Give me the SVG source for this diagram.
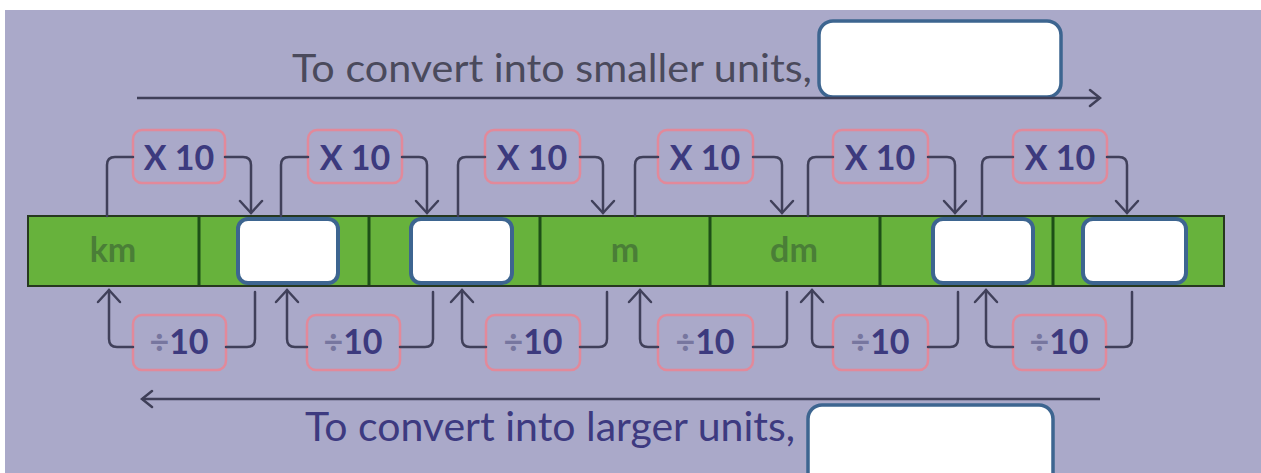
<svg xmlns="http://www.w3.org/2000/svg" width="1261" height="473" viewBox="0 0 1261 473">
<style>
.conn{fill:none;stroke:#40405a;stroke-width:2.5;stroke-linecap:round}
.big{fill:none;stroke:#3f3f58;stroke-width:2.5}
.lab{fill:none;stroke:#e2899a;stroke-width:2.5}
.labt{font-family:Lato,"Open Sans",sans-serif;font-weight:700;font-size:34px;fill:#3c3a7e;text-anchor:middle}
.div{font-family:Lato,"Open Sans",sans-serif;font-weight:700;font-size:34px;fill:#77769f}
.wbox{fill:#ffffff;stroke:#3d6590;stroke-width:4}
.bigbox{fill:#ffffff;stroke:#3d6590;stroke-width:3.5}
.unit{font-family:Lato,"Open Sans",sans-serif;font-weight:700;font-size:34px;fill:#4a7e37;text-anchor:middle}
.sep{stroke:#1d4f17;stroke-width:3}
</style>
<defs>
<marker id="ah" viewBox="-14 -13 16 26" refX="0" refY="0" markerWidth="16" markerHeight="26" markerUnits="userSpaceOnUse" orient="auto">
<path d="M-12,-11 L0,0 L-12,11" fill="none" stroke="#40405a" stroke-width="2.5" stroke-linecap="round"/>
</marker>
<marker id="bh" viewBox="-14 -11 16 22" refX="0" refY="0" markerWidth="16" markerHeight="22" markerUnits="userSpaceOnUse" orient="auto">
<path d="M-10,-8 L0,0 L-10,8" fill="none" stroke="#3f3f58" stroke-width="2.5" stroke-linecap="round"/>
</marker>
</defs>
<rect x="0" y="0" width="1261" height="473" fill="#ffffff"/>
<rect x="5" y="10" width="1256" height="463" fill="#aaa9c9"/>

<g id="top-title">
<text x="292" y="82" font-family="Lato,'Open Sans',sans-serif" font-size="38" fill="#4a4a5c" textLength="520" lengthAdjust="spacingAndGlyphs">To convert into smaller units,</text>
<rect class="bigbox" x="819" y="21" width="242" height="76" rx="14"/>
</g>
<g id="bottom-title">
<text x="305" y="441" font-family="Lato,'Open Sans',sans-serif" font-size="40" fill="#3d3a80" textLength="490" lengthAdjust="spacingAndGlyphs">To convert into larger units,</text>
<rect class="bigbox" x="808" y="405" width="245" height="90" rx="14"/>
</g>

<g id="bar">
<rect x="28" y="216" width="1196" height="70" fill="#67b23c" stroke="#26381f" stroke-width="2"/>
<line class="sep" x1="199" y1="217" x2="199" y2="285"/>
<line class="sep" x1="369" y1="217" x2="369" y2="285"/>
<line class="sep" x1="540" y1="217" x2="540" y2="285"/>
<line class="sep" x1="710" y1="217" x2="710" y2="285"/>
<line class="sep" x1="880" y1="217" x2="880" y2="285"/>
<line class="sep" x1="1053" y1="217" x2="1053" y2="285"/>
</g>
<g id="cell-km"><text class="unit" x="113" y="262">km</text></g>
<g id="cell-2"><rect class="wbox" x="238" y="219" width="100" height="64" rx="10"/></g>
<g id="cell-3"><rect class="wbox" x="411" y="219" width="101" height="64" rx="10"/></g>
<g id="cell-m"><text class="unit" x="625" y="262">m</text></g>
<g id="cell-dm"><text class="unit" x="794" y="262">dm</text></g>
<g id="cell-6"><rect class="wbox" x="933" y="219" width="100" height="64" rx="10"/></g>
<g id="cell-7"><rect class="wbox" x="1083" y="219" width="103" height="64" rx="10"/></g>

<g id="mul-labels">
<g id="mul1"><rect class="lab" x="133" y="130" width="92" height="53" rx="9"/><text class="labt" x="179" y="170">X 10</text></g>
<g id="mul2"><rect class="lab" x="308" y="130" width="94" height="53" rx="9"/><text class="labt" x="355" y="170">X 10</text></g>
<g id="mul3"><rect class="lab" x="485" y="130" width="95" height="53" rx="9"/><text class="labt" x="532" y="170">X 10</text></g>
<g id="mul4"><rect class="lab" x="658" y="130" width="95" height="53" rx="9"/><text class="labt" x="705" y="170">X 10</text></g>
<g id="mul5"><rect class="lab" x="833" y="130" width="95" height="53" rx="9"/><text class="labt" x="880" y="170">X 10</text></g>
<g id="mul6"><rect class="lab" x="1013" y="130" width="94" height="53" rx="9"/><text class="labt" x="1060" y="170">X 10</text></g>
</g>
<g id="div-labels">
<g id="div1"><rect class="lab" x="133" y="315" width="93" height="55" rx="9"/><text x="179" y="354" text-anchor="middle"><tspan class="div">÷</tspan><tspan class="labt">10</tspan></text></g>
<g id="div2"><rect class="lab" x="307" y="315" width="93" height="55" rx="9"/><text x="353" y="354" text-anchor="middle"><tspan class="div">÷</tspan><tspan class="labt">10</tspan></text></g>
<g id="div3"><rect class="lab" x="486" y="315" width="94" height="55" rx="9"/><text x="533" y="354" text-anchor="middle"><tspan class="div">÷</tspan><tspan class="labt">10</tspan></text></g>
<g id="div4"><rect class="lab" x="658" y="315" width="95" height="55" rx="9"/><text x="705" y="354" text-anchor="middle"><tspan class="div">÷</tspan><tspan class="labt">10</tspan></text></g>
<g id="div5"><rect class="lab" x="833" y="315" width="95" height="55" rx="9"/><text x="880" y="354" text-anchor="middle"><tspan class="div">÷</tspan><tspan class="labt">10</tspan></text></g>
<g id="div6"><rect class="lab" x="1013" y="315" width="93" height="55" rx="9"/><text x="1059" y="354" text-anchor="middle"><tspan class="div">÷</tspan><tspan class="labt">10</tspan></text></g>
</g>

<g id="connectors">
<path class="big" d="M137,98 H1100" marker-end="url(#bh)"/>
<path class="big" d="M1100,399 H142" marker-end="url(#bh)"/>
<path class="conn" d="M107,216 V165 Q107,157 115,157 H133"/>
<path class="conn" d="M225,157 H243 Q251,157 251,165 V213" marker-end="url(#ah)"/>
<path class="conn" d="M281,216 V165 Q281,157 289,157 H308"/>
<path class="conn" d="M402,157 H419 Q427,157 427,165 V213" marker-end="url(#ah)"/>
<path class="conn" d="M458,216 V165 Q458,157 466,157 H485"/>
<path class="conn" d="M580,157 H595 Q603,157 603,165 V213" marker-end="url(#ah)"/>
<path class="conn" d="M635,216 V165 Q635,157 643,157 H658"/>
<path class="conn" d="M753,157 H774 Q782,157 782,165 V213" marker-end="url(#ah)"/>
<path class="conn" d="M808,216 V165 Q808,157 816,157 H833"/>
<path class="conn" d="M928,157 H947 Q955,157 955,165 V213" marker-end="url(#ah)"/>
<path class="conn" d="M982,216 V165 Q982,157 990,157 H1013"/>
<path class="conn" d="M1107,157 H1119 Q1127,157 1127,165 V213" marker-end="url(#ah)"/>
<path class="conn" d="M133,347 H117 Q109,347 109,339 V290" marker-end="url(#ah)"/>
<path class="conn" d="M226,347 H247 Q255,347 255,339 V292"/>
<path class="conn" d="M307,347 H295 Q287,347 287,339 V290" marker-end="url(#ah)"/>
<path class="conn" d="M400,347 H425 Q433,347 433,339 V292"/>
<path class="conn" d="M486,347 H470 Q462,347 462,339 V290" marker-end="url(#ah)"/>
<path class="conn" d="M580,347 H599 Q607,347 607,339 V292"/>
<path class="conn" d="M658,347 H648 Q640,347 640,339 V290" marker-end="url(#ah)"/>
<path class="conn" d="M753,347 H779 Q787,347 787,339 V292"/>
<path class="conn" d="M833,347 H820 Q812,347 812,339 V290" marker-end="url(#ah)"/>
<path class="conn" d="M928,347 H950 Q958,347 958,339 V292"/>
<path class="conn" d="M1013,347 H994 Q986,347 986,339 V290" marker-end="url(#ah)"/>
<path class="conn" d="M1106,347 H1124 Q1132,347 1132,339 V292"/>
</g>
</svg>
